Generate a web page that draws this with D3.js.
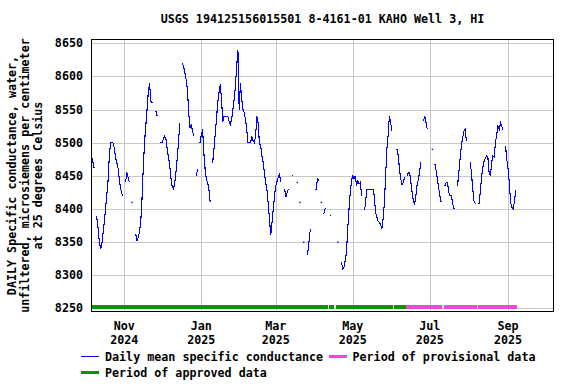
<!DOCTYPE html>
<html>
<head>
<meta charset="utf-8">
<script src="https://cdn.jsdelivr.net/npm/d3@7/dist/d3.min.js"></script>
<style>
  body { margin: 0; background: #fff; }
  text { font-family: "DejaVu Sans Mono", "Liberation Mono", monospace; font-weight: bold; font-size: 11.7px; fill: #000; }
</style>
</head>
<body>
<div id="chart"></div>
<script>
// daily mean specific conductance, one value per day starting at firstDay (null = no data)
var firstDay = "2024-10-06";
var conductance = [
  8480, 8472, 8462, null, 8390, 8375, 8355, 8341, 8343, 8360,
  8378, 8398, 8418, 8440, 8475, 8500, 8500, 8500, 8492, 8478,
  8470, 8462, 8445, 8432, 8423, 8420, null, 8440, 8455, 8448,
  8440, null, 8410, null, null, 8362, 8352, 8357, 8365, 8380,
  8415, 8462, 8500, 8525, 8550, 8576, 8590, 8562, 8560, 8560,
  null, 8548, 8540, null, 8500, 8500, 8500, 8506, 8510, 8505,
  8490, 8478, 8465, 8445, 8433, 8430, 8440, 8458, 8478, 8503,
  8530, null, 8620, 8615, 8605, 8595, 8580, 8545, 8522, 8528,
  8518, 8510, null, 8450, 8460, null, 8500, 8512, 8520, 8485,
  8460, 8445, 8440, 8430, 8410, null, 8470, 8490, 8512, 8535,
  8560, 8575, 8588, 8565, 8532, 8540, 8540, 8540, 8540, 8532,
  8528, 8535, 8550, 8565, 8585, 8615, 8640, 8550, 8590, 8565,
  8550, 8545, 8535, 8520, 8500, 8500, 8500, 8510, 8503, 8500,
  8510, 8540, 8530, 8500, 8495, 8480, 8470, 8455, 8440, 8428,
  8408, 8385, 8360, 8380, 8400, 8420, 8435, 8442, 8448, 8452,
  8440, null, null, 8430, 8418, 8425, 8430, null, null, 8451,
  8451, null, null, 8440, null, 8410, null, null, 8350, null,
  null, 8330, 8345, 8365, 8370, null, null, 8430, 8430, 8445,
  8443, null, 8410, null, 8392, 8400, 8400, null, null, 8390,
  8390, null, null, null, null, 8350, null, null, 8320, 8310,
  8312, 8322, 8335, 8370, 8400, 8425, 8443, 8450, 8445, 8450,
  8435, 8442, 8438, 8440, 8420, null, 8398, 8405, 8430, 8430,
  8430, 8430, 8430, 8430, 8420, 8395, 8388, 8382, 8380, 8376,
  8370, 8385, 8408, 8450, 8490, 8512, 8540, 8530, 8518, null,
  null, null, 8490, 8480, 8460, 8445, 8437, 8440, 8448, null,
  8450, 8455, 8455, 8440, 8425, 8412, 8408, 8420, 8437, 8445,
  8458, 8470, null, 8532, 8540, 8530, 8520, null, null, null,
  8490, null, 8468, 8458, 8445, 8432, 8420, 8410, null, null,
  8435, 8440, 8440, 8425, 8420, 8420, 8410, 8400, 8400, null,
  8435, 8455, 8475, 8495, 8507, 8517, 8520, 8502, null, null,
  8470, 8455, 8430, 8412, 8408, null, null, 8408, 8425, 8448,
  8463, 8472, 8477, 8480, 8478, 8455, 8450, 8470, 8480, 8478,
  8500, 8512, 8525, 8520, 8530, 8525, 8520, null, 8495, 8475,
  8460, 8440, 8410, 8402, 8400, 8410, 8428
];

var yTicks = [8250, 8300, 8350, 8400, 8450, 8500, 8550, 8600, 8650];
var xTickDates = ["2024-11-01", "2025-01-01", "2025-03-01", "2025-05-01", "2025-07-01", "2025-09-01"];
var xTickMonths = ["Nov", "Jan", "Mar", "May", "Jul", "Sep"];
var xTickYears = ["2024", "2025", "2025", "2025", "2025", "2025"];

var approvedPeriods = [["2024-10-06", "2025-04-11"], ["2025-04-12", "2025-04-16"],
                       ["2025-04-18", "2025-06-02"], ["2025-06-03", "2025-06-12"]];
var provisionalPeriods = [["2025-06-12", "2025-07-11"], ["2025-07-12", "2025-08-07"],
                          ["2025-08-08", "2025-09-08"]];

var title = "USGS 194125156015501 8-4161-01 KAHO Well 3, HI";
var yTitle = ["DAILY Specific conductance, water,",
              "unfiltered, microsiemens per centimeter",
              "at 25 degrees Celsius"];

function draw() {
  var W = 576, H = 384,
      pL = 91.5, pR = 553.5, pT = 39.5, pB = 311.5,
      parse = d3.utcParse("%Y-%m-%d"),
      day0 = parse(firstDay);

  var x = d3.scaleUtc().domain([parse("2024-10-06"), parse("2025-10-07")]).range([pL, pR]);
  var y = d3.scaleLinear().domain([8245.2, 8655.7]).range([pB, pT]);

  var data = conductance.map(function(v, i) { return [d3.utcDay.offset(day0, i), v]; });

  var svg = d3.select("#chart").append("svg")
      .attr("width", W)
      .attr("height", H);

  // grid
  svg.selectAll(".ygrid")
    .data(yTicks)
    .enter().append("line")
    .attr("x1", pL).attr("x2", pR)
    .attr("y1", function(d) { return Math.round(y(d)) + 0.5; })
    .attr("y2", function(d) { return Math.round(y(d)) + 0.5; })
    .style("stroke", "#c8c8c8")
    .style("shape-rendering", "crispEdges");

  svg.selectAll(".xgrid")
    .data(xTickDates)
    .enter().append("line")
    .attr("x1", function(d) { return Math.round(x(parse(d))) + 0.5; })
    .attr("x2", function(d) { return Math.round(x(parse(d))) + 0.5; })
    .attr("y1", pT).attr("y2", pB)
    .style("stroke", "#c8c8c8")
    .style("shape-rendering", "crispEdges");

  // period bars
  function bars(periods, color) {
    svg.selectAll(null)
      .data(periods)
      .enter().append("rect")
      .attr("x", function(d) { return x(parse(d[0])); })
      .attr("width", function(d) { return x(parse(d[1])) - x(parse(d[0])); })
      .attr("y", 305.3)
      .attr("height", 4)
      .style("fill", color)
      .style("shape-rendering", "crispEdges");
  }
  bars(approvedPeriods, "#009900");
  bars(provisionalPeriods, "#f046dc");

  // data line
  var line = d3.line()
    .defined(function(d) { return d[1] != null; })
    .x(function(d) { return x(d[0]); })
    .y(function(d) { return y(d[1]); });

  svg.append("path")
    .attr("d", line(data))
    .style("fill", "none")
    .style("stroke", "#0000ff")
    .style("stroke-width", 1.1)
    .style("shape-rendering", "crispEdges");

  // lone days draw as a single dot
  var lone = data.filter(function(d, i) {
    return d[1] != null &&
      (i == 0 || conductance[i - 1] == null) &&
      (i == conductance.length - 1 || conductance[i + 1] == null);
  });
  svg.selectAll(".dot")
    .data(lone)
    .enter().append("rect")
    .attr("x", function(d) { return x(d[0]) - 0.6; })
    .attr("y", function(d) { return y(d[1]) - 0.6; })
    .attr("width", 1.4).attr("height", 1.4)
    .style("fill", "#0000ff");

  // frame
  svg.append("rect")
    .attr("x", pL).attr("y", pT)
    .attr("width", pR - pL).attr("height", pB - pT)
    .style("fill", "none")
    .style("stroke", "#000")
    .style("stroke-width", 1.3)
    .style("shape-rendering", "crispEdges");

  // y tick labels
  svg.selectAll(".ylab")
    .data(yTicks)
    .enter().append("text")
    .attr("x", 83)
    .attr("y", function(d) { return y(d) + 4; })
    .attr("text-anchor", "end")
    .text(function(d) { return d; });

  // x tick labels
  svg.selectAll(".xmon")
    .data(xTickDates)
    .enter().append("text")
    .attr("x", function(d) { return x(parse(d)); })
    .attr("y", 330)
    .attr("text-anchor", "middle")
    .text(function(d, i) { return xTickMonths[i]; });

  svg.selectAll(".xyr")
    .data(xTickDates)
    .enter().append("text")
    .attr("x", function(d) { return x(parse(d)); })
    .attr("y", 343.5)
    .attr("text-anchor", "middle")
    .text(function(d, i) { return xTickYears[i]; });

  // title
  svg.append("text")
    .attr("x", (pL + pR) / 2)
    .attr("y", 23)
    .attr("text-anchor", "middle")
    .text(title);

  // y title, three rotated lines
  svg.selectAll(".ytitle")
    .data(yTitle)
    .enter().append("text")
    .attr("text-anchor", "middle")
    .attr("transform", function(d, i) { return "translate(" + (16 + i * 13) + "," + (pT + pB) / 2 + ") rotate(-90)"; })
    .text(function(d) { return d; });

  // legend
  svg.append("line")
    .attr("x1", 81).attr("x2", 99)
    .attr("y1", 356.5).attr("y2", 356.5)
    .style("stroke", "#0000ff");
  svg.append("text").attr("x", 105).attr("y", 361).text("Daily mean specific conductance");

  svg.append("rect")
    .attr("x", 329).attr("y", 355).attr("width", 18).attr("height", 3)
    .style("fill", "#f046dc");
  svg.append("text").attr("x", 352.5).attr("y", 361).text("Period of provisional data");

  svg.append("rect")
    .attr("x", 81).attr("y", 371).attr("width", 18).attr("height", 3)
    .style("fill", "#009900");
  svg.append("text").attr("x", 105).attr("y", 376.5).text("Period of approved data");
}

draw();
</script>
</body>
</html>
